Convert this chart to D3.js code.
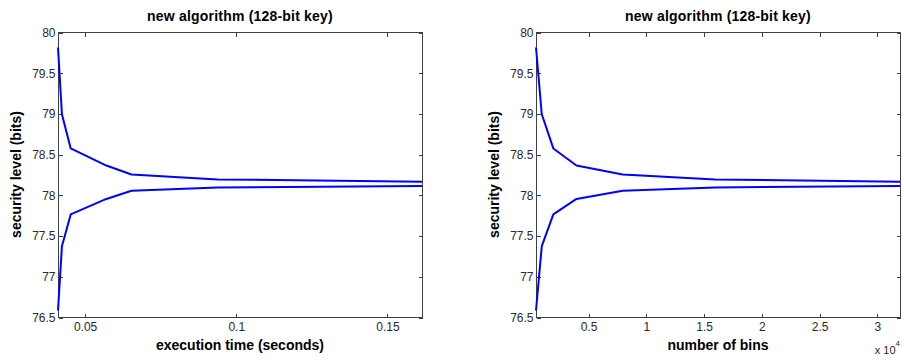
<!DOCTYPE html>
<html>
<head>
<meta charset="utf-8">
<script src="https://cdn.jsdelivr.net/npm/d3@7"></script>
<style>
  html, body { margin: 0; padding: 0; background: #fff; }
  svg { display: block; }
  text { font-family: "Liberation Sans", Arial, Helvetica, sans-serif; }
</style>
</head>
<body>
<svg id="chart" width="904" height="362"></svg>
<script>
// ---- data ----
const bins = [500, 1000, 2000, 4000, 8000, 16000, 32000];
const execTime = [0.0412, 0.0425, 0.0454, 0.0572, 0.0655, 0.094, 0.1616];
const upperLevel = [79.81, 78.99, 78.57, 78.36, 78.25, 78.19, 78.16];
const lowerLevel = [76.58, 77.37, 77.76, 77.95, 78.05, 78.09, 78.11];
const yTicks = [76.5, 77, 77.5, 78, 78.5, 79, 79.5, 80];
const timeTicks = [0.05, 0.1, 0.15];
const binTicks = [5000, 10000, 15000, 20000, 25000, 30000];
const titleText = "new algorithm (128-bit key)";
const yLabelText = "security level (bits)";
const timeLabelText = "execution time (seconds)";
const binLabelText = "number of bins";

const svg = d3.select("#chart");

function panel(opts) {
  const { left, right, top, bottom, xs, xTicks, xFormat, xLabel, exponent } = opts;
  const g = svg.append("g");
  const x = d3.scaleLinear().domain(d3.extent(xs)).range([left, right]);
  const y = d3.scaleLinear().domain([76.5, 80]).range([bottom, top]);

  // frame
  g.append("rect")
    .attr("x", left + 0.5).attr("y", top + 0.5)
    .attr("width", right - left).attr("height", bottom - top)
    .attr("fill", "none").attr("stroke", "#404040").attr("stroke-width", 1)
    .attr("shape-rendering", "crispEdges");

  const styleAxis = sel => {
    sel.select(".domain").remove();
    sel.selectAll(".tick line").attr("stroke", "#404040").attr("shape-rendering", "crispEdges");
    sel.selectAll(".tick text").attr("fill", "#2a2a2a").style("font-size", "12px")
      .style("font-family", "'Liberation Sans', Arial, sans-serif");
  };

  // left axis
  g.append("g").attr("transform", `translate(${left + 0.5},0.5)`)
    .call(d3.axisLeft(y).tickValues(yTicks).tickSize(-4).tickPadding(3).tickFormat(d3.format("")))
    .call(styleAxis);
  // right axis (ticks only)
  g.append("g").attr("transform", `translate(${right + 0.5},0.5)`)
    .call(d3.axisRight(y).tickValues(yTicks).tickSize(-4).tickFormat(""))
    .call(styleAxis);
  // bottom axis
  g.append("g").attr("transform", `translate(0.5,${bottom + 0.5})`)
    .call(d3.axisBottom(x).tickValues(xTicks).tickSize(-4).tickPadding(5).tickFormat(xFormat))
    .call(styleAxis);
  // top axis (ticks only)
  g.append("g").attr("transform", `translate(0.5,${top + 0.5})`)
    .call(d3.axisTop(x).tickValues(xTicks).tickSize(-4).tickFormat(""))
    .call(styleAxis);

  // lines
  const line = d3.line().x(d => x(d[0])).y(d => y(d[1]));
  [upperLevel, lowerLevel].forEach(series => {
    g.append("path")
      .datum(xs.map((v, i) => [v, series[i]]))
      .attr("d", line)
      .attr("fill", "none")
      .attr("stroke", "#0000ff")
      .attr("stroke-width", 2)
      .attr("stroke-linejoin", "round");
  });

  const cx = (left + right) / 2;
  g.append("text").attr("x", cx).attr("y", 21)
    .attr("text-anchor", "middle").style("font-size", "14px").style("font-weight", "bold")
    .style("letter-spacing", "0.2px").attr("fill", "#000")
    .text(titleText);
  g.append("text").attr("x", cx).attr("y", 350)
    .attr("text-anchor", "middle").style("font-size", "14px").style("font-weight", "bold")
    .attr("fill", "#000")
    .text(xLabel);
  g.append("text")
    .attr("transform", `translate(${left - 37},${(top + bottom) / 2}) rotate(-90)`)
    .attr("text-anchor", "middle").style("font-size", "14px").style("font-weight", "bold")
    .attr("fill", "#000")
    .text(yLabelText);

  if (exponent) {
    const t = g.append("text").attr("x", right).attr("y", 354)
      .attr("text-anchor", "end").style("font-size", "11px").attr("fill", "#2a2a2a");
    t.append("tspan").text("x 10");
    t.append("tspan").attr("dy", -8).style("font-size", "8px").text(exponent);
  }
}

panel({
  left: 58, right: 422, top: 32, bottom: 317,
  xs: execTime, xTicks: timeTicks, xFormat: d3.format(""), xLabel: timeLabelText
});
panel({
  left: 536, right: 900, top: 32, bottom: 317,
  xs: bins, xTicks: binTicks, xFormat: d => d3.format("")(d / 1e4), xLabel: binLabelText,
  exponent: "4"
});
</script>
</body>
</html>
